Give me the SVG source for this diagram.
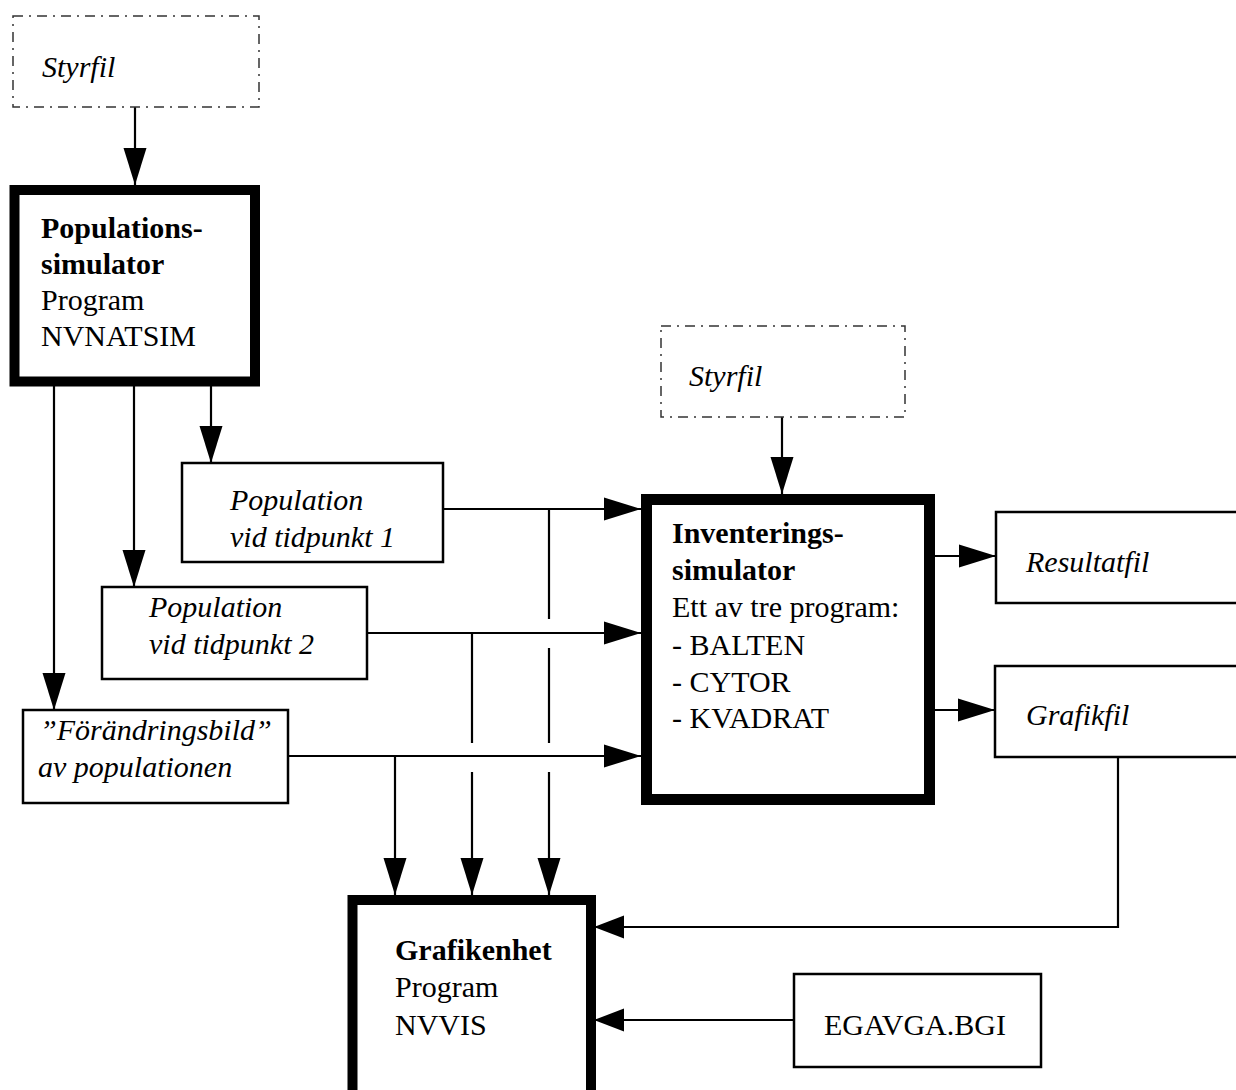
<svg xmlns="http://www.w3.org/2000/svg" width="1236" height="1090" viewBox="0 0 1236 1090">
<style>
.t{font-family:"Liberation Serif","Times New Roman",serif;font-size:30px;fill:#000}
.b{font-weight:bold}
.i{font-style:italic}
.box{fill:#fff;stroke:#000;stroke-width:2.5}
.dash{fill:none;stroke:#333;stroke-width:1.5;stroke-dasharray:10 6 2 6}
.thick{fill:#fff;stroke:#000}
.c{fill:none;stroke:#000;stroke-width:2.2}
</style>
<defs>
<marker id="big" markerUnits="userSpaceOnUse" markerWidth="38" markerHeight="24" refX="37" refY="11.5" orient="auto" overflow="visible">
<path d="M0,0 L37,11.5 L0,23 Z" fill="#000"/>
</marker>
<marker id="short" markerUnits="userSpaceOnUse" markerWidth="31" markerHeight="24" refX="30" refY="11.5" orient="auto" overflow="visible">
<path d="M0,0 L30,11.5 L0,23 Z" fill="#000"/>
</marker>
</defs>
<rect width="1236" height="1090" fill="#fff"/>

<g id="connectors">
<line class="c" x1="135" y1="107" x2="135" y2="185" marker-end="url(#big)"/>
<line class="c" x1="782" y1="417" x2="782" y2="494" marker-end="url(#big)"/>
<line class="c" x1="211" y1="386" x2="211" y2="463" marker-end="url(#big)"/>
<line class="c" x1="134" y1="386" x2="134" y2="587" marker-end="url(#big)"/>
<line class="c" x1="54" y1="386" x2="54" y2="710" marker-end="url(#big)"/>
<line class="c" x1="443" y1="509" x2="641" y2="509" marker-end="url(#big)"/>
<line class="c" x1="367" y1="633" x2="641" y2="633" marker-end="url(#big)"/>
<line class="c" x1="288" y1="756" x2="641" y2="756" marker-end="url(#big)"/>
<path class="c" d="M549,509 V619 M549,648 V743 M549,772 V895" marker-end="url(#big)"/>
<path class="c" d="M472,633 V743 M472,772 V895" marker-end="url(#big)"/>
<line class="c" x1="395" y1="756" x2="395" y2="895" marker-end="url(#big)"/>
<line class="c" x1="935" y1="556" x2="996" y2="556" marker-end="url(#big)"/>
<line class="c" x1="935" y1="710" x2="995" y2="710" marker-end="url(#big)"/>
<path class="c" d="M1118,757 V927 H594" marker-end="url(#short)"/>
<line class="c" x1="794" y1="1020" x2="594" y2="1020" marker-end="url(#short)"/>
</g>

<g id="styrfil1">
<rect class="dash" x="13" y="16" width="246" height="91"/>
<text class="t i" x="42" y="77">Styrfil</text>
</g>

<g id="populationssimulator">
<rect class="thick" x="14.5" y="190" width="240.5" height="191.5" stroke-width="10"/>
<text class="t b" x="41" y="238">Populations-</text>
<text class="t b" x="41" y="274">simulator</text>
<text class="t" x="41" y="310">Program</text>
<text class="t" x="41" y="346">NVNATSIM</text>
</g>

<g id="styrfil2">
<rect class="dash" x="661" y="326" width="244" height="91"/>
<text class="t i" x="689" y="386">Styrfil</text>
</g>

<g id="pop1">
<rect class="box" x="182" y="463" width="261" height="99"/>
<text class="t i" x="230" y="510">Population</text>
<text class="t i" x="230" y="547">vid tidpunkt 1</text>
</g>

<g id="pop2">
<rect class="box" x="102" y="587" width="265" height="92"/>
<text class="t i" x="149" y="617">Population</text>
<text class="t i" x="149" y="654">vid tidpunkt 2</text>
</g>

<g id="forandringsbild">
<rect class="box" x="23" y="710" width="265" height="93"/>
<text class="t i" x="40" y="740">”Förändringsbild”</text>
<text class="t i" x="38" y="777">av populationen</text>
</g>

<g id="inventeringssimulator">
<rect class="thick" x="646.5" y="499.5" width="283" height="300" stroke-width="11"/>
<text class="t b" x="672" y="543">Inventerings-</text>
<text class="t b" x="672" y="580">simulator</text>
<text class="t" x="672" y="617">Ett av tre program:</text>
<text class="t" x="672" y="655">- BALTEN</text>
<text class="t" x="672" y="692">- CYTOR</text>
<text class="t" x="672" y="728">- KVADRAT</text>
</g>

<g id="resultatfil">
<rect class="box" x="996" y="512" width="260" height="91"/>
<text class="t i" x="1026" y="572">Resultatfil</text>
</g>

<g id="grafikfil">
<rect class="box" x="995" y="666" width="260" height="91"/>
<text class="t i" x="1026" y="725">Grafikfil</text>
</g>

<g id="grafikenhet">
<rect class="thick" x="352.5" y="900" width="238.5" height="220" stroke-width="10"/>
<text class="t b" x="395" y="960">Grafikenhet</text>
<text class="t" x="395" y="997">Program</text>
<text class="t" x="395" y="1035">NVVIS</text>
</g>

<g id="egavga">
<rect class="box" x="794" y="974" width="247" height="93"/>
<text class="t" x="824" y="1035">EGAVGA.BGI</text>
</g>
</svg>
